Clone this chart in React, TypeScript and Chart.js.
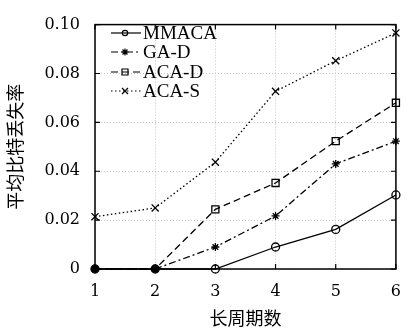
import { useEffect, useRef } from 'react';
import { Chart, registerables } from 'chart.js';

Chart.register(...registerables);

const periods = [1, 2, 3, 4, 5, 6];
const mmaca = [0, 0, 0, 0.009, 0.0162, 0.0303];
const gaD = [0, 0, 0.009, 0.0217, 0.043, 0.0523];
const acaD = [0, 0, 0.0244, 0.0352, 0.0523, 0.068];
const acaS = [0.0214, 0.025, 0.0437, 0.0727, 0.0852, 0.0966];
const seriesNames = ['MMACA', 'GA-D', 'ACA-D', 'ACA-S'];
const xTitle = '长周期数';
const yTitle = '平均比特丢失率';

const dashes: number[][] = [[], [7, 3, 2, 3], [7, 4], [1.5, 2.5]];
const shapes = ['circle', 'star', 'rect', 'crossRot'];
const radii = [4, 4, 5, 5];

function drawMarker(ctx: CanvasRenderingContext2D, shape: string, x: number, y: number, r: number) {
  ctx.save();
  ctx.setLineDash([]);
  ctx.beginPath();
  if (shape === 'circle') {
    ctx.arc(x, y, r, 0, Math.PI * 2);
  } else if (shape === 'rect') {
    ctx.rect(x - r, y - r, 2 * r, 2 * r);
  } else if (shape === 'crossRot') {
    ctx.moveTo(x - r, y - r); ctx.lineTo(x + r, y + r);
    ctx.moveTo(x - r, y + r); ctx.lineTo(x + r, y - r);
  } else if (shape === 'star') {
    const s = r * Math.SQRT1_2;
    ctx.moveTo(x - r, y); ctx.lineTo(x + r, y);
    ctx.moveTo(x, y - r); ctx.lineTo(x, y + r);
    ctx.moveTo(x - s, y - s); ctx.lineTo(x + s, y + s);
    ctx.moveTo(x - s, y + s); ctx.lineTo(x + s, y - s);
  }
  ctx.stroke();
  ctx.restore();
}

const framePlugin = {
  id: 'frameAndLegend',
  afterDraw(chart: any) {
    const ctx: CanvasRenderingContext2D = chart.ctx;
    const { left, right, top, bottom } = chart.chartArea;
    const xs = chart.scales.x;
    const ys = chart.scales.y;
    ctx.save();
    ctx.strokeStyle = '#000';
    ctx.lineWidth = 1.5;
    ctx.setLineDash([]);
    ctx.strokeRect(left, top, right - left, bottom - top);
    ctx.lineWidth = 1.2;
    const tl = 5;
    ctx.beginPath();
    xs.ticks.forEach((t: any) => {
      const px = xs.getPixelForValue(t.value);
      ctx.moveTo(px, bottom); ctx.lineTo(px, bottom - tl);
      ctx.moveTo(px, top); ctx.lineTo(px, top + tl);
    });
    ys.ticks.forEach((t: any) => {
      const py = ys.getPixelForValue(t.value);
      ctx.moveTo(left, py); ctx.lineTo(left + tl, py);
      ctx.moveTo(right, py); ctx.lineTo(right - tl, py);
    });
    ctx.stroke();

    // legend
    const rows = [33, 52, 72, 91];
    const mr = [2.7, 3.5, 3, 3];
    ctx.font = '19px "Liberation Serif"';
    ctx.textBaseline = 'middle';
    ctx.textAlign = 'left';
    ctx.fillStyle = '#000';
    seriesNames.forEach((name, i) => {
      const y = rows[i];
      ctx.lineWidth = 1.2;
      ctx.setLineDash(dashes[i]);
      ctx.beginPath();
      ctx.moveTo(111, y); ctx.lineTo(141, y);
      ctx.stroke();
      ctx.lineWidth = 1.2;
      drawMarker(ctx, shapes[i], 125, y, mr[i]);
      ctx.fillText(name, 143, y + 1);
    });
    ctx.restore();
  },
};

export default function App() {
  const ref = useRef<HTMLCanvasElement | null>(null);
  useEffect(() => {
    document.body.style.margin = '0';
    const all = [mmaca, gaD, acaD, acaS];
    const overlapped = (i: number, j: number) =>
      all.filter((s) => s[j] === all[i][j]).length > 1;
    const chart = new Chart(ref.current as HTMLCanvasElement, {
      type: 'line',
      data: {
        datasets: all.map((vals, i) => ({
          label: seriesNames[i],
          data: periods.map((p, j) => ({ x: p, y: vals[j] })),
          borderColor: '#000',
          backgroundColor: 'rgba(0,0,0,0)',
          borderWidth: 1.3,
          borderDash: dashes[i],
          pointStyle: shapes[i] as any,
          pointRadius: periods.map((_, j) => (i > 0 && overlapped(i, j) ? 0 : radii[i])),
          pointBorderWidth: 1.3,
          pointBorderColor: '#000',
          pointBackgroundColor: periods.map((_, j) =>
            i === 0 && overlapped(i, j) ? '#000' : 'rgba(0,0,0,0)'),
          tension: 0,
          clip: false as any,
        })),
      },
      options: {
        animation: false,
        responsive: false,
        maintainAspectRatio: false,
        layout: { padding: { top: 14, right: 8, left: 0, bottom: 0 } },
        plugins: { legend: { display: false }, tooltip: { enabled: false } },
        scales: {
          x: {
            type: 'linear',
            min: 1,
            max: 6,
            afterFit: (s: any) => { s.height = 64; },
            ticks: {
              stepSize: 1,
              padding: 13,
              color: '#000',
              font: { family: '"DejaVu Serif"', size: 16 },
            },
            grid: { color: '#c4c4c4', lineWidth: 1, drawTicks: false },
            border: { display: false, dash: [1, 2] },
            title: {
              display: true,
              text: xTitle,
              color: '#000',
              font: { family: '"Noto Sans CJK SC"', size: 18 },
              padding: { top: 0, bottom: 4 },
            },
          },
          y: {
            min: 0,
            max: 0.1,
            afterFit: (s: any) => { s.width = 95; },
            ticks: {
              stepSize: 0.02,
              padding: 15,
              color: '#000',
              font: { family: '"DejaVu Serif"', size: 16 },
              callback: (v: any) => (Number(v) === 0 ? '0' : Number(v).toFixed(2)),
            },
            grid: { color: '#c4c4c4', lineWidth: 1, drawTicks: false },
            border: { display: false, dash: [1, 2] },
            title: {
              display: true,
              text: yTitle,
              color: '#000',
              font: { family: '"Noto Sans CJK SC"', size: 18 },
              padding: { top: 4, bottom: 0 },
            },
          },
        },
      },
      plugins: [framePlugin],
    });
    return () => chart.destroy();
  }, []);
  return (
    <div style={{ position: 'fixed', left: 0, top: 0, width: 414, height: 333 }}>
      <canvas ref={ref} width={414} height={333} style={{ width: 414, height: 333 }} />
    </div>
  );
}
